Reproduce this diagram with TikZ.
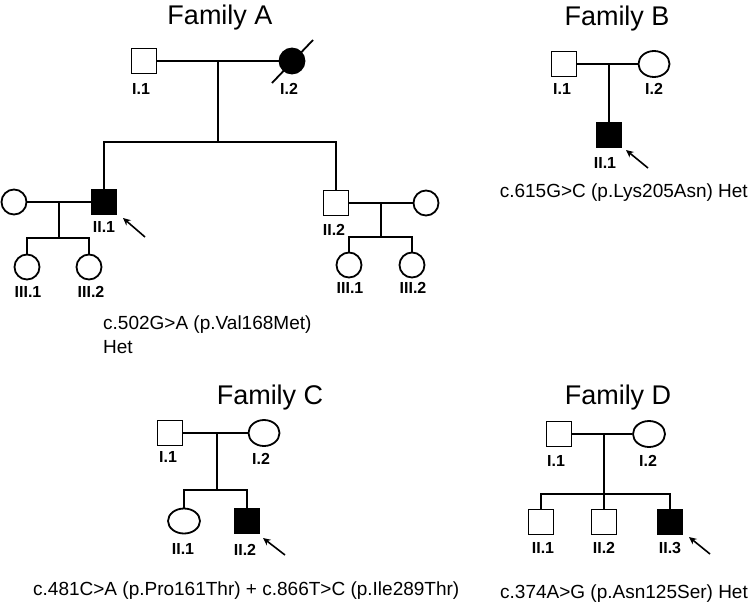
\documentclass[tikz,border=0pt]{standalone}
\usepackage{fontspec}
\setmainfont{Liberation Sans}
\usetikzlibrary{shapes.geometric,arrows.meta,calc}
\begin{document}
\begin{tikzpicture}[x=1pt,y=-1pt,
  lw/.style={line width=1.8pt},
  male/.style={draw,lw,rectangle,minimum size=25pt,inner sep=0pt},
  femA/.style={draw,lw,circle,minimum size=25pt,inner sep=0pt},
  fem/.style={draw,lw,ellipse,minimum width=31pt,minimum height=26pt,inner sep=0pt},
  aff/.style={fill=black},
  lbl/.style={font=\fontsize{16}{16}\selectfont\bfseries,inner sep=0pt},
  ttl/.style={font=\fontsize{27}{27}\selectfont,inner sep=0pt,anchor=base},
  mut/.style={font=\fontsize{19}{19}\selectfont,inner sep=0pt},
  prob/.style={line width=1.6pt,-{Stealth[length=7.5pt,width=7pt]}},
]
\fill[white] (0,0) rectangle (749,603);
\useasboundingbox (0,0) rectangle (749,603);

% ---------------- Family A ----------------
\node[ttl] (tA) at (220,24) {Family A};
\node[male] (A11) at (144,61) {};
\node[femA,aff] (A12) at (292,61) {};
\coordinate (Am) at ($(A11)!0.5!(A12)$);
\coordinate (Asib) at (218,142);
\node[male,aff] (A21) at (104,202) {};
\node[femA] (A2w) at (14,202) {};
\node[male] (A22) at (336,203) {};
\node[femA] (A2h) at (426,203) {};
\coordinate (Am2) at ($(A2w)!0.5!(A21)$);
\coordinate (Asib2) at (59,238);
\coordinate (Am3) at ($(A22)!0.5!(A2h)$);
\coordinate (Asib3) at (381,237);
\node[femA] (A31) at (27,267) {};
\node[femA] (A32) at (89,267) {};
\node[femA] (A33) at (349,265) {};
\node[femA] (A34) at (412,265) {};
\draw[lw] (A11) -- (A12);
\draw[lw] (Am) -- (Asib);
\draw[lw] (A21.north) |- (Asib) -| (A22.north);
\draw[lw] (A2w) -- (A21);
\draw[lw] (Am2) -- (Asib2);
\draw[lw] (A31.north) |- (Asib2) -| (A32.north);
\draw[lw] (A22) -- (A2h);
\draw[lw] (Am3) -- (Asib3);
\draw[lw] (A33.north) |- (Asib3) -| (A34.north);
\coordinate (As1) at ($(A12)+(-20,22)$);
\coordinate (As2) at ($(A12)+(21,-21)$);
\draw[lw] (As1) -- (As2);
\node[lbl] (lA11) at (141,88.5) {I.1};
\node[lbl] (lA12) at (289,88.5) {I.2};
\node[lbl] (lA21) at (104,227) {II.1};
\node[lbl] (lA22) at (334,230) {II.2};
\node[lbl] (lA31) at (28,292) {III.1};
\node[lbl] (lA32) at (91,292) {III.2};
\node[lbl] (lA33) at (350,288) {III.1};
\node[lbl] (lA34) at (413,288) {III.2};
\coordinate (pA1) at ($(A21)+(41,35)$);
\coordinate (pA2) at ($(A21)+(19,16)$);
\draw[prob] (pA1) -- (pA2);
\node[mut,anchor=base west] (mA1) at (103,329) {c.502G>A (p.Val168Met)};
\node[mut,anchor=base west] (mA2) at (103,353) {Het};

% ---------------- Family B ----------------
\node[ttl] (tB) at (617,25) {Family B};
\node[male] (B11) at (564,64) {};
\node[fem] (B12) at (654,64) {};
\coordinate (Bm) at ($(B11)!0.5!(B12)$);
\node[male,aff] (B21) at (609,135) {};
\draw[lw] (B11) -- (B12);
\draw[lw] (Bm) -- (B21);
\node[lbl] (lB11) at (562,89) {I.1};
\node[lbl] (lB12) at (654,89) {I.2};
\node[lbl] (lB21) at (605,163) {II.1};
\coordinate (pB1) at ($(B21)+(39,33)$);
\coordinate (pB2) at ($(B21)+(17,15)$);
\draw[prob] (pB1) -- (pB2);
\node[mut,anchor=base east] (mB) at (748,197) {c.615G>C (p.Lys205Asn) Het};

% ---------------- Family C ----------------
\node[ttl] (tC) at (270,404) {Family C};
\node[male] (C11) at (170,433) {};
\node[fem] (C12) at (264,433) {};
\coordinate (Cm) at ($(C11)!0.5!(C12)$);
\coordinate (Csib) at (217,490);
\node[fem,minimum width=32pt,minimum height=25pt] (C21) at (184,521) {};
\node[male,aff] (C22) at (247,521) {};
\draw[lw] (C11) -- (C12);
\draw[lw] (Cm) -- (Csib);
\draw[lw] (C21.north) |- (Csib) -| (C22.north);
\node[lbl] (lC11) at (168,457) {I.1};
\node[lbl] (lC12) at (261,459) {I.2};
\node[lbl] (lC21) at (183,549) {II.1};
\node[lbl] (lC22) at (245,550) {II.2};
\coordinate (pC1) at ($(C22)+(38,34)$);
\coordinate (pC2) at ($(C22)+(16,17)$);
\draw[prob] (pC1) -- (pC2);
\node[mut,anchor=base west] (mC) at (33,595) {c.481C>A (p.Pro161Thr) + c.866T>C (p.Ile289Thr)};

% ---------------- Family D ----------------
\node[ttl] (tD) at (618,404) {Family D};
\node[male] (D11) at (559,434) {};
\node[fem,minimum width=32pt] (D12) at (649,434) {};
\coordinate (Dm) at ($(D11)!0.5!(D12)$);
\coordinate (Dsib) at (604,494);
\node[male] (D21) at (541,522) {};
\node[male] (D22) at (604,522) {};
\node[male,aff] (D23) at (670,522) {};
\draw[lw] (D11) -- (D12);
\draw[lw] (Dm) -- (D22.north);
\draw[lw] (D21.north) |- (Dsib) -| (D23.north);
\node[lbl] (lD11) at (556,461) {I.1};
\node[lbl] (lD12) at (648,461) {I.2};
\node[lbl] (lD21) at (543,548) {II.1};
\node[lbl] (lD22) at (604,548) {II.2};
\node[lbl] (lD23) at (670,548) {II.3};
\coordinate (pD1) at ($(D23)+(40,32)$);
\coordinate (pD2) at ($(D23)+(19,15)$);
\draw[prob] (pD1) -- (pD2);
\node[mut,anchor=base west] (mD) at (500,598) {c.374A>G (p.Asn125Ser) Het};
\end{tikzpicture}
\end{document}
